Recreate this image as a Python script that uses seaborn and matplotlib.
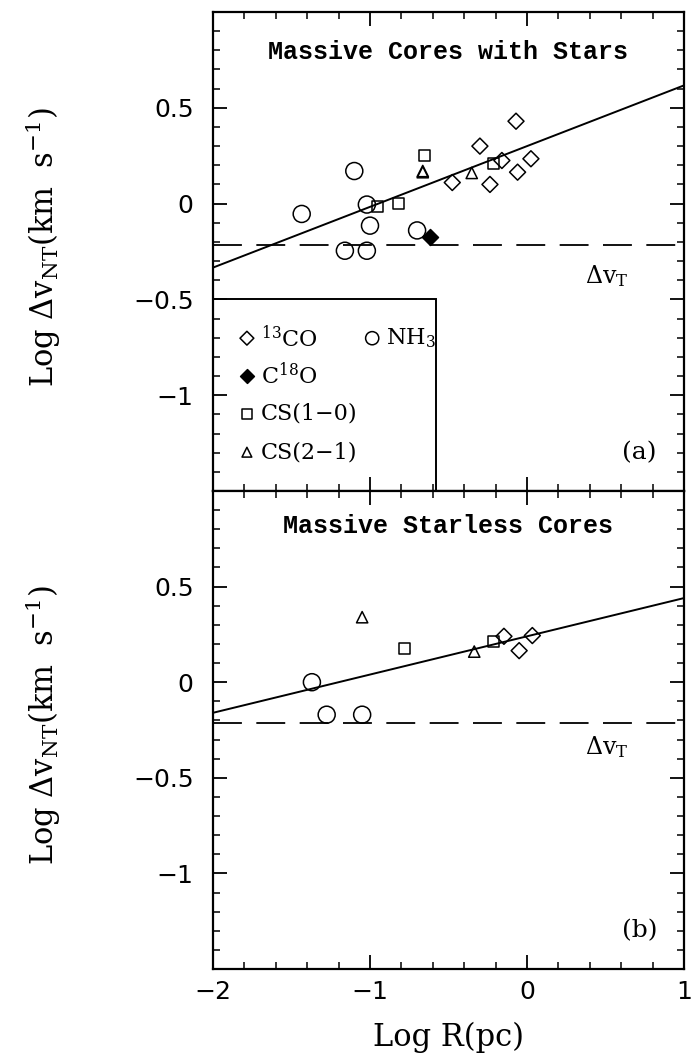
import numpy as np
import pandas as pd
import matplotlib
matplotlib.use("Agg")
import matplotlib.pyplot as plt
from matplotlib.ticker import MultipleLocator, FixedLocator, FuncFormatter
from matplotlib.patches import Rectangle
import seaborn as sns

# ---------------- data ----------------
# Panel (a): Massive cores with stars
a_13co_x = [-0.476, -0.30, -0.236, -0.16, -0.07, -0.06, 0.025]
a_13co_y = [0.11, 0.30, 0.10, 0.225, 0.43, 0.164, 0.234]
a_c18o_x = [-0.618]
a_c18o_y = [-0.176]
a_cs10_x = [-0.95, -0.82, -0.654, -0.215]
a_cs10_y = [-0.016, 0.0, 0.25, 0.21]
a_cs21_x = [-0.664, -0.664, -0.352]
a_cs21_y = [0.164, 0.17, 0.16]
a_nh3_x = [-1.435, -1.10, -1.02, -1.0, -0.70, -1.16, -1.02]
a_nh3_y = [-0.054, 0.17, -0.005, -0.115, -0.14, -0.246, -0.246]
a_fit = [0.30, 0.317]          # intercept, slope

# Panel (b): Massive starless cores
b_13co_x = [-0.147, -0.05, 0.034]
b_13co_y = [0.24, 0.165, 0.244]
b_cs10_x = [-0.78, -0.215]
b_cs10_y = [0.174, 0.214]
b_cs21_x = [-1.05, -0.336]
b_cs21_y = [0.34, 0.16]
b_nh3_x = [-1.37, -1.276, -1.05]
b_nh3_y = [0.0, -0.17, -0.17]
b_fit = [0.24, 0.20]

thermal = -0.215
x_ticks = [-2, -1, 0, 1]
y_ticks = [-1, -0.5, 0, 0.5]

# ---------------- style ----------------
sns.set_theme(style="ticks")
plt.rcParams["font.family"] = ["DejaVu Serif"]
plt.rcParams["mathtext.fontset"] = "dejavuserif"
for k in ["text.color", "axes.labelcolor", "xtick.color", "ytick.color", "axes.edgecolor"]:
    plt.rcParams[k] = "black"

fig = plt.figure(figsize=(6.93, 10.61), dpi=100)
L, R = 213 / 693, 684 / 693
axA = fig.add_axes([L, 1 - 491 / 1061, R - L, (491 - 12) / 1061])
axB = fig.add_axes([L, 1 - 969 / 1061, R - L, (969 - 491) / 1061])

styles = {
    "13co": dict(marker="D", s=66, facecolors="none", edgecolors="black", linewidths=1.1),
    "c18o": dict(marker="D", s=66, facecolors="black", edgecolors="black", linewidths=1.1),
    "cs10": dict(marker="s", s=62, facecolors="none", edgecolors="black", linewidths=1.1),
    "cs21": dict(marker="^", s=66, facecolors="none", edgecolors="black", linewidths=1.1),
    "nh3": dict(marker="o", s=150, facecolors="none", edgecolors="black", linewidths=1.1),
}

def fmt(v, pos):
    s = ("%g" % v)
    return s.replace("-", "\u2212")

def draw(ax, series, fit, title, tag):
    for key, xs, ys in series:
        df = pd.DataFrame({"x": xs, "y": ys})
        sns.scatterplot(data=df, x="x", y="y", ax=ax, legend=False, zorder=3, **styles[key])
    xl = np.array([-2.0, 1.0])
    sns.lineplot(x=xl, y=fit[0] + fit[1] * xl, ax=ax, color="black", lw=1.4, zorder=2)
    ax.axhline(thermal, color="black", lw=1.3, ls=(0, (16, 8)), zorder=2)
    ax.set_xlim(-2, 1)
    ax.set_ylim(-1.5, 1.0)
    ax.xaxis.set_major_locator(FixedLocator(x_ticks))
    ax.xaxis.set_minor_locator(MultipleLocator(0.2))
    ax.yaxis.set_major_locator(FixedLocator(y_ticks))
    ax.yaxis.set_minor_locator(MultipleLocator(0.1))
    ax.xaxis.set_major_formatter(FuncFormatter(fmt))
    ax.yaxis.set_major_formatter(FuncFormatter(fmt))
    ax.tick_params(which="both", direction="in", top=True, right=True, color="black",
                   labelcolor="black")
    ax.tick_params(which="major", length=10, width=1.3, labelsize=18, pad=8)
    ax.tick_params(axis="y", which="major", pad=14)
    ax.tick_params(which="minor", length=5, width=1.1)
    for lab in ax.get_xticklabels() + ax.get_yticklabels():
        lab.set_family("DejaVu Sans")
    for sp in ax.spines.values():
        sp.set_linewidth(1.6)
        sp.set_color("black")
    ax.set_xlabel("")
    ax.set_ylabel(r"Log $\Delta$v$_{\rm NT}$(km  s$^{-1}$)", fontsize=22)
    ax.yaxis.set_label_coords(-0.318, 0.51)
    ax.text(0.5, title[1], title[0], transform=ax.transAxes, ha="center", va="center",
            fontsize=18, family="Liberation Mono", fontweight="bold")
    ax.text(0.835, tag[1], r"$\Delta$v$_{\rm T}$", transform=ax.transAxes, ha="center",
            va="center", fontsize=17)
    ax.text(0.905, 0.08, tag[0], transform=ax.transAxes, ha="center", va="center", fontsize=18)

draw(axA, [("13co", a_13co_x, a_13co_y), ("c18o", a_c18o_x, a_c18o_y),
           ("cs10", a_cs10_x, a_cs10_y), ("cs21", a_cs21_x, a_cs21_y),
           ("nh3", a_nh3_x, a_nh3_y)], a_fit,
     ("Massive Cores with Stars", 0.917), ("(a)", 0.449))
draw(axB, [("13co", b_13co_x, b_13co_y), ("cs10", b_cs10_x, b_cs10_y),
           ("cs21", b_cs21_x, b_cs21_y), ("nh3", b_nh3_x, b_nh3_y)], b_fit,
     ("Massive Starless Cores", 0.926), ("(b)", 0.464))

axA.tick_params(labelbottom=False)
axB.set_xlabel("Log R(pc)", fontsize=22, labelpad=13)

# legend box in panel (a)
axA.add_patch(Rectangle((0, 0), 0.473, 0.40, transform=axA.transAxes, fill=False,
                        edgecolor="black", lw=1.4, zorder=4))
leg_items = [("13co", 0.072, 0.319, r"$^{13}$CO"),
             ("c18o", 0.072, 0.240, r"C$^{18}$O"),
             ("cs10", 0.072, 0.161, "CS(1\u22120)"),
             ("cs21", 0.072, 0.081, "CS(2\u22121)"),
             ("nh3", 0.338, 0.319, r"NH$_3$")]
for key, lx, ly, txt in leg_items:
    st = dict(styles[key])
    st["s"] = st["s"] * (0.6 if key == "nh3" else 0.75)
    axA.scatter([lx], [ly], transform=axA.transAxes, clip_on=False, zorder=5, **st)
    axA.text(lx + 0.03, ly, txt, transform=axA.transAxes, ha="left", va="center", fontsize=16)

fig.savefig("out.png", dpi=100)
